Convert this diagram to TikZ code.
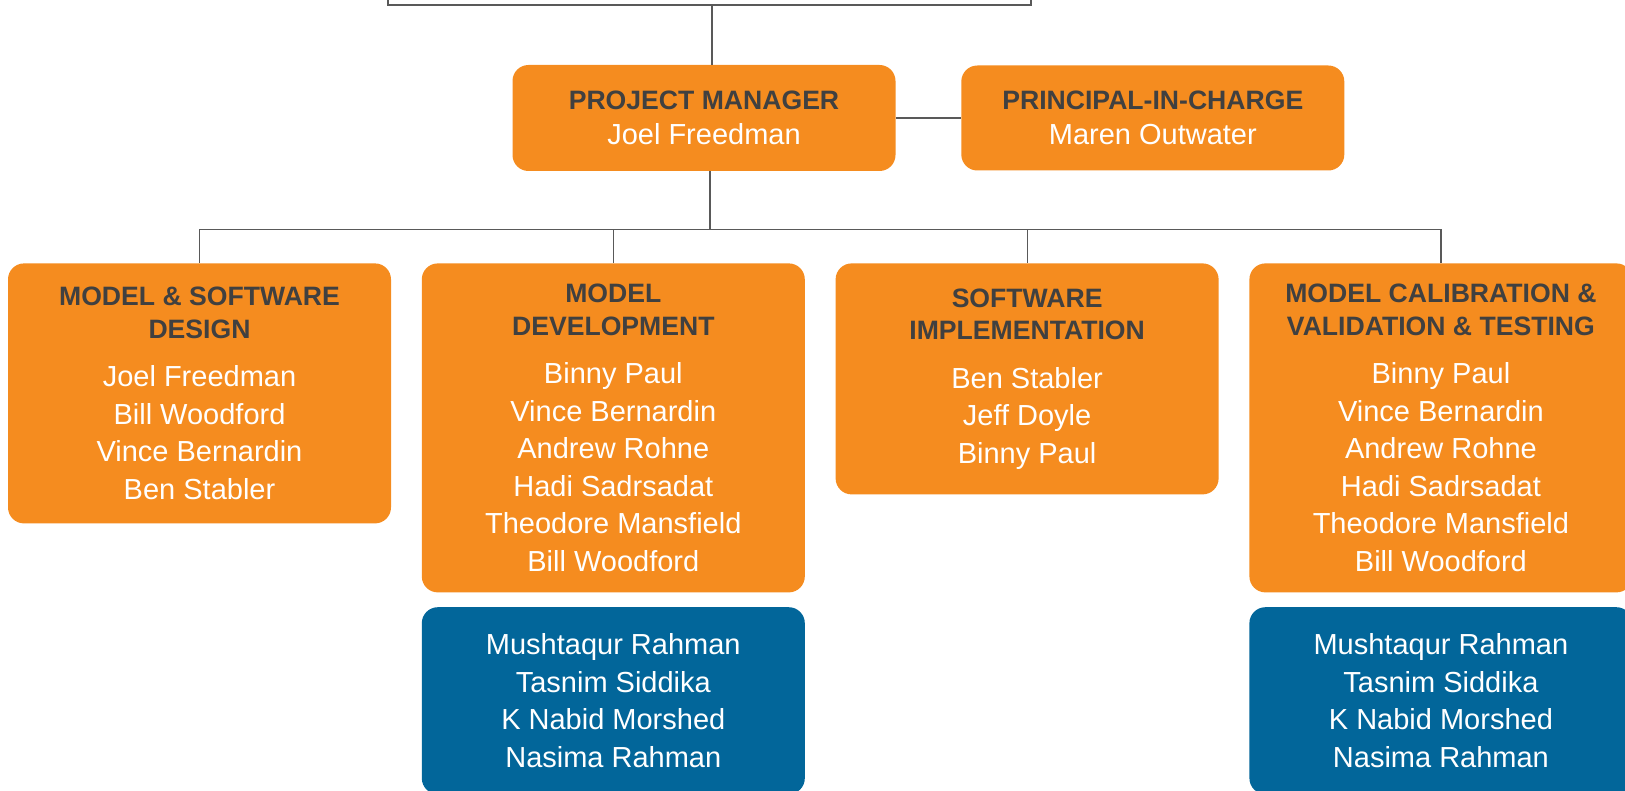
\documentclass[tikz,border=0pt]{standalone}
\usepackage{fontspec}
\setmainfont{Liberation Sans}
\usetikzlibrary{positioning}

\definecolor{boxorange}{HTML}{F58C1F}
\definecolor{teamblue}{HTML}{02669A}
\definecolor{headgray}{HTML}{404040}
\definecolor{linegray}{HTML}{595959}
\newcommand{\hd}[1]{{\fontsize{13.3pt}{16pt}\selectfont\bfseries\color{headgray}#1}}

\begin{document}
\begin{tikzpicture}[x=0.5pt, y=-0.5pt,
						font=\fontsize{14.5pt}{18.75pt}\selectfont,
						node distance = 7pt and 15pt, % vertical and horizontal gap
						block/.style = {rectangle, fill=boxorange, text=white, rounded corners=8pt,
										minimum width=191.5pt, align=center, inner sep=2pt},
						team_block/.style = {block, fill=teamblue, minimum height=93.5pt},
						top_frame/.style = {rectangle, draw=linegray, line width=0.7pt,
										minimum width=321.5pt, minimum height=40pt},
						line/.style = {draw=linegray, line width=0.6pt}
						]
						\useasboundingbox (0,0) rectangle (1625,791);

						% --- Top row ---
						\node[block, minimum height=53pt] (pm) at (704,118) {\hd{PROJECT MANAGER}\\[-1pt] Joel Freedman};
						\node[block, minimum height=52.5pt, right=32.5pt of pm] (pic) {\hd{PRINCIPAL-IN-CHARGE}\\[-1pt] Maren Outwater};
						\node[top_frame, above=29.5pt of pm, xshift=2.75pt] (top_frame) {};

						% --- Departments ---
						\node[block, minimum height=130pt, anchor=north] (design) at (199.5,263) {\hd{MODEL \& SOFTWARE}\\[-2.5pt]\hd{DESIGN}\\[5.5pt] Joel Freedman\\Bill Woodford\\Vince Bernardin\\Ben Stabler};
						\node[block, minimum height=164.5pt, right=15pt of design.north east, anchor=north west] (model_dev) {\hd{MODEL}\\[-2.5pt]\hd{DEVELOPMENT}\\[5.5pt] Binny Paul\\Vince Bernardin\\Andrew Rohne\\Hadi Sadrsadat\\Theodore Mansfield\\Bill Woodford};
						\node[block, minimum height=115.5pt, right=15pt of model_dev.north east, anchor=north west] (sw_impl) {\hd{SOFTWARE}\\[-2.5pt]\hd{IMPLEMENTATION}\\[5.5pt] Ben Stabler\\Jeff Doyle\\Binny Paul};
						\node[block, minimum height=164.5pt, right=15pt of sw_impl.north east, anchor=north west] (calib) {\hd{MODEL CALIBRATION \&}\\[-2.5pt]\hd{VALIDATION \& TESTING}\\[5.5pt] Binny Paul\\Vince Bernardin\\Andrew Rohne\\Hadi Sadrsadat\\Theodore Mansfield\\Bill Woodford};

						% --- Teams ---
						\node[team_block, below=of model_dev] (dev_team) {Mushtaqur Rahman\\Tasnim Siddika\\K Nabid Morshed\\Nasima Rahman};
						\node[team_block, below=of calib] (calib_team) {Mushtaqur Rahman\\Tasnim Siddika\\K Nabid Morshed\\Nasima Rahman};

						% --- Connections ---
						\coordinate (bus) at ([xshift=3pt, yshift=-29pt]pm.south);
						\coordinate (top_drop) at ([xshift=1.25pt]top_frame.south);
						\draw[line] (top_drop) -- (top_drop |- pm.north);
						\draw[line] (pm.east) -- (pic.west);
						\draw[line] (bus |- pm.south) -- (bus);
						\draw[line] (design.north |- bus) -- (calib.north |- bus);
						\foreach \dept in {design, model_dev, sw_impl, calib}
							\draw[line] (\dept.north |- bus) -- (\dept.north);

					\end{tikzpicture}
\end{document}
